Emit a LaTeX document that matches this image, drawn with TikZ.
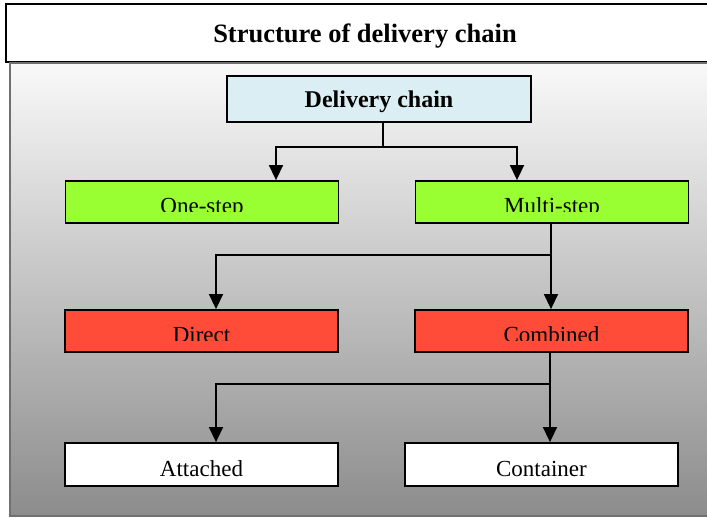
\documentclass[tikz,border=0pt]{standalone}
\usepackage{fontspec}
\setmainfont{Liberation Serif}
\usetikzlibrary{arrows.meta}

\definecolor{chainblue}{RGB}{218,238,243}
\definecolor{stepgreen}{RGB}{153,255,51}
\definecolor{kindred}{RGB}{255,76,56}
\definecolor{paneltop}{RGB}{249,249,249}
\definecolor{panelmid}{RGB}{212,212,212}
\definecolor{panelbot}{RGB}{140,140,140}
\definecolor{panelframe}{RGB}{112,112,112}
\newcommand{\bodysize}{\fontsize{23}{27}\selectfont}

\tikzset{
  stage/.style={draw=black, line width=1.8pt, minimum width=273pt, minimum height=42pt, inner sep=0pt},
  boxtext/.style={path picture={
    \node[font=\bodysize, anchor=base] at ([yshift=10pt]path picture bounding box.south) {#1};}},
  cuttext/.style={path picture={
    \clip (path picture bounding box.north west) rectangle ([yshift=11pt]path picture bounding box.south east);
    \node[font=\bodysize, anchor=base] at ([yshift=9pt]path picture bounding box.south) {#1};}},
  link/.style={line width=1.5pt},
  arrow/.style={line width=1.5pt, -{Triangle[length=15pt, width=14pt]}}
}

\begin{document}
\begin{tikzpicture}[x=1pt,y=-1pt]
\useasboundingbox (0,0) rectangle (707,518);
% title and panel
\node[draw=black, line width=1.5pt, minimum width=718pt, minimum height=58pt, inner sep=0pt, text depth=0pt,
      font=\fontsize{26.5}{30}\selectfont\bfseries] (title) at (365,33) {Structure of delivery chain};
\path[top color=paneltop, middle color=panelmid, bottom color=panelbot, draw=panelframe, line width=2pt]
  (10,63) rectangle (722,516);

% boxes
\node[stage, minimum width=304pt, minimum height=46pt, fill=chainblue, text depth=0pt,
      font=\fontsize{24}{28}\selectfont\bfseries] (chain) at (379,99) {Delivery chain};
\node[stage, fill=stepgreen, cuttext=One-step] (onestep) at (202,202) {};
\node[stage, fill=stepgreen, cuttext=Multi-step] (multistep) at (552,202) {};
\node[stage, fill=kindred, cuttext=Direct] (direct) at (201.5,331) {};
\node[stage, fill=kindred, cuttext=Combined] (combined) at (551.5,331) {};
\node[stage, minimum height=43pt, fill=white, boxtext=Attached] (attached) at (201.5,464.5) {};
\node[stage, minimum height=43pt, fill=white, boxtext=Container] (container) at (541.5,464.5) {};

% connectors
\coordinate (fork1) at (383,147);
\draw[link] (chain.south -| fork1) -- (fork1);
\draw[arrow] (fork1) -| ([xshift=74pt]onestep.north);
\draw[arrow] (fork1) -| ([xshift=-35pt]multistep.north);

\coordinate (fork2) at (551,255);
\draw[link] (multistep.south -| fork2) -- (fork2);
\draw[arrow] (fork2) -| ([xshift=14.5pt]direct.north);
\draw[arrow] (fork2) -- (combined.north -| fork2);

\coordinate (fork3) at (550,384);
\draw[link] (combined.south -| fork3) -- (fork3);
\draw[arrow] (fork3) -| ([xshift=14.5pt]attached.north);
\draw[arrow] (fork3) -- (container.north -| fork3);
\end{tikzpicture}
\end{document}
